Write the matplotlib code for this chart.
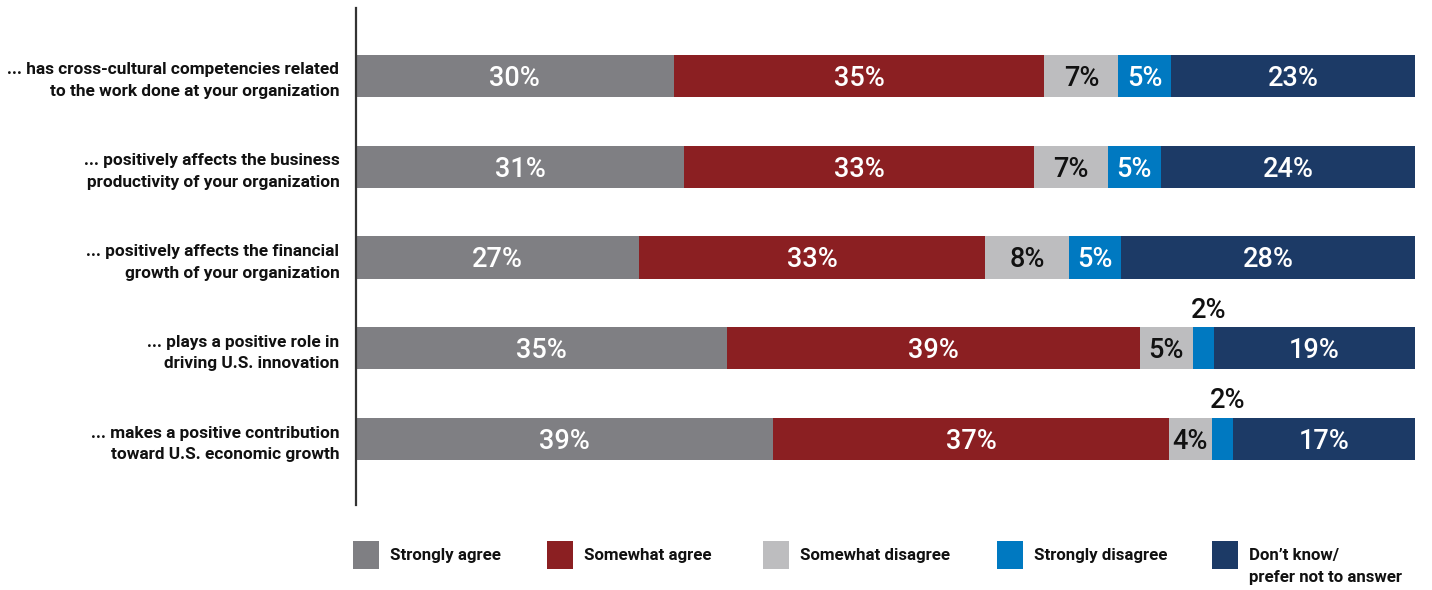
import numpy as np
import matplotlib.pyplot as plt
from matplotlib.patches import Rectangle

plt.rcParams['font.family'] = ['Roboto', 'DejaVu Sans']

statements = [
    "... has cross-cultural competencies related\nto the work done at your organization",
    "... positively affects the business\nproductivity of your organization",
    "... positively affects the financial\ngrowth of your organization",
    "... plays a positive role in\ndriving U.S. innovation",
    "... makes a positive contribution\ntoward U.S. economic growth",
]
responses = ["Strongly agree", "Somewhat agree", "Somewhat disagree",
             "Strongly disagree", "Don\u2019t know/\nprefer not to answer"]

strongly_agree = [30, 31, 27, 35, 39]
somewhat_agree = [35, 33, 33, 39, 37]
somewhat_disagree = [7, 7, 8, 5, 4]
strongly_disagree = [5, 5, 5, 2, 2]
dont_know = [23, 24, 28, 19, 17]

colors = ["#7f7f83", "#8b1f22", "#bdbdbf", "#0079c1", "#1c3a66"]
text_colors = ["white", "white", "#111111", "white", "white"]

series = np.array([strongly_agree, somewhat_agree, somewhat_disagree,
                   strongly_disagree, dont_know], dtype=float)
# each row is drawn as a share of its own total so the bars fill the width
shares = series / series.sum(axis=0) * 100

fig = plt.figure(figsize=(14.32, 5.9), dpi=100)
ax = fig.add_axes([356 / 1432, 1 - 505 / 590, (1415 - 356) / 1432, 497 / 590])

y = np.arange(len(statements))
left = np.zeros(len(statements))
for k in range(len(responses)):
    ax.barh(y, shares[k], left=left, height=0.465, color=colors[k], linewidth=0)
    for i in range(len(statements)):
        cx = left[i] + shares[k][i] / 2
        label = f"{int(series[k][i])}%"
        if series[k][i] < 3:
            ax.text(cx + 0.5, y[i] - 0.42, label, ha="center", va="center",
                    fontsize=19.5, fontweight="medium", color="#111111")
        else:
            ax.text(cx, y[i] + 0.025, label, ha="center", va="center",
                    fontsize=19.5, fontweight="medium", color=text_colors[k])
    left += shares[k]

ax.set_xlim(0, 100)
ax.set_ylim(4.727, -0.749)
ax.set_yticks(y)
ax.set_yticklabels(statements, fontsize=12.4, fontweight="bold",
                   color="#111111", linespacing=1.55)
ax.tick_params(axis="y", length=0, pad=12)
ax.set_xticks([])
for side in ["top", "right", "bottom"]:
    ax.spines[side].set_visible(False)
ax.spines["left"].set_color("#333333")
ax.spines["left"].set_linewidth(1.6)

# legend row along the bottom
legend_x = [353, 547, 763, 997, 1212]
for k, name in enumerate(responses):
    x0 = legend_x[k] / 1432
    fig.add_artist(Rectangle((x0, 1 - 569 / 590), 26 / 1432, 28 / 590,
                             transform=fig.transFigure, color=colors[k], linewidth=0))
    fig.text(x0 + 37 / 1432, 1 - 548 / 590, name, ha="left", va="top",
             fontsize=12.2, fontweight="bold", color="#111111", linespacing=1.6)

fig.savefig("out.png", dpi=100)
